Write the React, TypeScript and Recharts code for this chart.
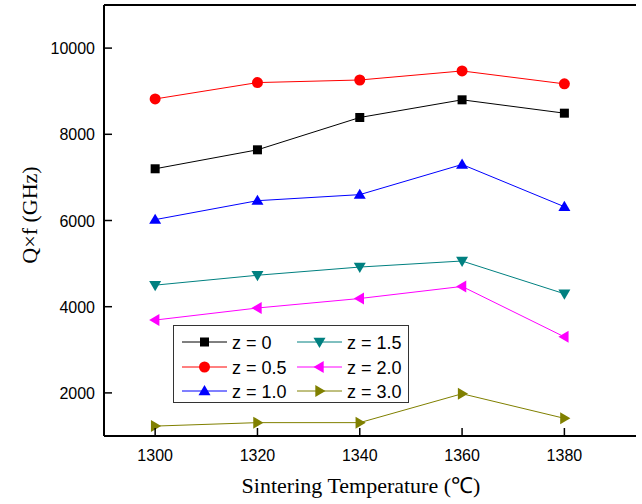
import { LineChart, Line, XAxis, YAxis, Label } from 'recharts';

const temps = [1300, 1320, 1340, 1360, 1380];
const z0 = [7200, 7640, 8390, 8800, 8490];
const z05 = [8820, 9200, 9260, 9470, 9170];
const z10 = [6020, 6460, 6600, 7300, 6320];
const z15 = [4500, 4730, 4920, 5060, 4300];
const z20 = [3690, 3970, 4190, 4470, 3300];
const z30 = [1230, 1310, 1310, 1980, 1410];
const yTicks = [2000, 4000, 6000, 8000, 10000];

const data = temps.map((t, i) => ({
  t,
  z0: z0[i],
  z05: z05[i],
  z10: z10[i],
  z15: z15[i],
  z20: z20[i],
  z30: z30[i],
}));

type Shape = 'square' | 'circle' | 'up' | 'down' | 'left' | 'right';

const series: { key: string; name: string; color: string; shape: Shape }[] = [
  { key: 'z0', name: 'z = 0', color: '#000000', shape: 'square' },
  { key: 'z05', name: 'z = 0.5', color: '#ff0000', shape: 'circle' },
  { key: 'z10', name: 'z = 1.0', color: '#0000ff', shape: 'up' },
  { key: 'z15', name: 'z = 1.5', color: '#008080', shape: 'down' },
  { key: 'z20', name: 'z = 2.0', color: '#ff00ff', shape: 'left' },
  { key: 'z30', name: 'z = 3.0', color: '#808000', shape: 'right' },
];

function Marker({ cx, cy, shape, color }: { cx: number; cy: number; shape: Shape; color: string }) {
  const r = 6;
  if (shape === 'square') return <rect x={cx - 4.5} y={cy - 4.5} width={9} height={9} fill={color} />;
  if (shape === 'circle') return <circle cx={cx} cy={cy} r={5.5} fill={color} />;
  let pts = '';
  if (shape === 'up') pts = `${cx},${cy - r} ${cx - r},${cy + r * 0.7} ${cx + r},${cy + r * 0.7}`;
  if (shape === 'down') pts = `${cx},${cy + r} ${cx - r},${cy - r * 0.7} ${cx + r},${cy - r * 0.7}`;
  if (shape === 'left') pts = `${cx - r},${cy} ${cx + r * 0.7},${cy - r} ${cx + r * 0.7},${cy + r}`;
  if (shape === 'right') pts = `${cx + r},${cy} ${cx - r * 0.7},${cy - r} ${cx - r * 0.7},${cy + r}`;
  return <polygon points={pts} fill={color} />;
}

const sans = 'Arial, "Liberation Sans", sans-serif';
const serif = '"Times New Roman", "Liberation Serif", serif';

const XTick = ({ x, y, payload }: any) => (
  <g>
    <line x1={x} y1={y} x2={x} y2={y - 8} stroke="#000" strokeWidth={1.5} />
    <text x={x} y={y + 25} textAnchor="middle" fontSize={16} fontFamily={sans} fill="#000">
      {payload.value}
    </text>
  </g>
);

const YTick = ({ x, y, payload }: any) => (
  <g>
    <line x1={x} y1={y} x2={x + 8} y2={y} stroke="#000" strokeWidth={1.5} />
    <text x={x - 9} y={y + 6} textAnchor="end" fontSize={16} fontFamily={sans} fill="#000">
      {payload.value}
    </text>
  </g>
);

function LegendBox() {
  const cols = [
    { lx: 9, tx: 59 },
    { lx: 124, tx: 174 },
  ];
  const rows = [17, 42, 66];
  return (
    <svg
      width={236}
      height={78}
      style={{ position: 'absolute', left: 173, top: 325 }}
    >
      <rect x={0.5} y={0.5} width={235} height={77} fill="#fff" stroke="#333" strokeWidth={1} />
      {series.map((s, i) => {
        const c = cols[Math.floor(i / 3)];
        const y = rows[i % 3];
        return (
          <g key={s.key}>
            <line x1={c.lx} y1={y} x2={c.lx + 45} y2={y} stroke={s.color} strokeWidth={1} />
            <Marker cx={c.lx + 22.5} cy={y} shape={s.shape} color={s.color} />
            <text x={c.tx} y={y + 6.5} fontSize={18} fontFamily={sans} fill="#000">
              {s.name}
            </text>
          </g>
        );
      })}
    </svg>
  );
}

export default function App() {
  return (
    <div style={{ position: 'absolute', left: 0, top: 0, width: 642, height: 504, background: '#fff' }}>
      <LineChart width={642} height={504} data={data} margin={{ top: 0, right: 6, left: 0, bottom: 0 }}>
        <XAxis
          dataKey="t"
          type="number"
          domain={[1290, 1394]}
          ticks={temps}
          height={68}
          tickSize={0}
          tickMargin={0}
          tickLine={false}
          tick={<XTick />}
          axisLine={{ stroke: '#000', strokeWidth: 2 }}
        >
          <Label
            content={() => (
              <text x={361} y={493} textAnchor="middle" fontSize={22} fontFamily={serif} fill="#000">
                Sintering Temperature (℃)
              </text>
            )}
          />
        </XAxis>
        <XAxis
          xAxisId="top"
          orientation="top"
          dataKey="t"
          type="number"
          domain={[1290, 1394]}
          height={5}
          tick={false}
          tickLine={false}
          axisLine={{ stroke: '#000', strokeWidth: 2 }}
        />
        <YAxis
          type="number"
          domain={[1000, 11000]}
          ticks={yTicks}
          width={104}
          tickSize={0}
          tickMargin={0}
          tickLine={false}
          tick={<YTick />}
          axisLine={{ stroke: '#000', strokeWidth: 2 }}
        >
          <Label
            content={() => (
              <text
                x={37}
                y={215}
                transform="rotate(-90 37 215)"
                textAnchor="middle"
                fontSize={22}
                fontFamily={serif}
                fill="#000"
              >
                Q×f (GHz)
              </text>
            )}
          />
        </YAxis>
        <YAxis
          yAxisId="right"
          orientation="right"
          type="number"
          domain={[1000, 11000]}
          width={0}
          tick={false}
          tickLine={false}
          axisLine={{ stroke: '#000', strokeWidth: 2 }}
        />
        {series.map((s) => (
          <Line
            key={s.key}
            dataKey={s.key}
            name={s.name}
            stroke={s.color}
            strokeWidth={1}
            isAnimationActive={false}
            dot={(p: any) => <Marker key={`${s.key}-${p.index}`} cx={p.cx} cy={p.cy} shape={s.shape} color={s.color} />}
            activeDot={false}
          />
        ))}
      </LineChart>
      <LegendBox />
    </div>
  );
}
